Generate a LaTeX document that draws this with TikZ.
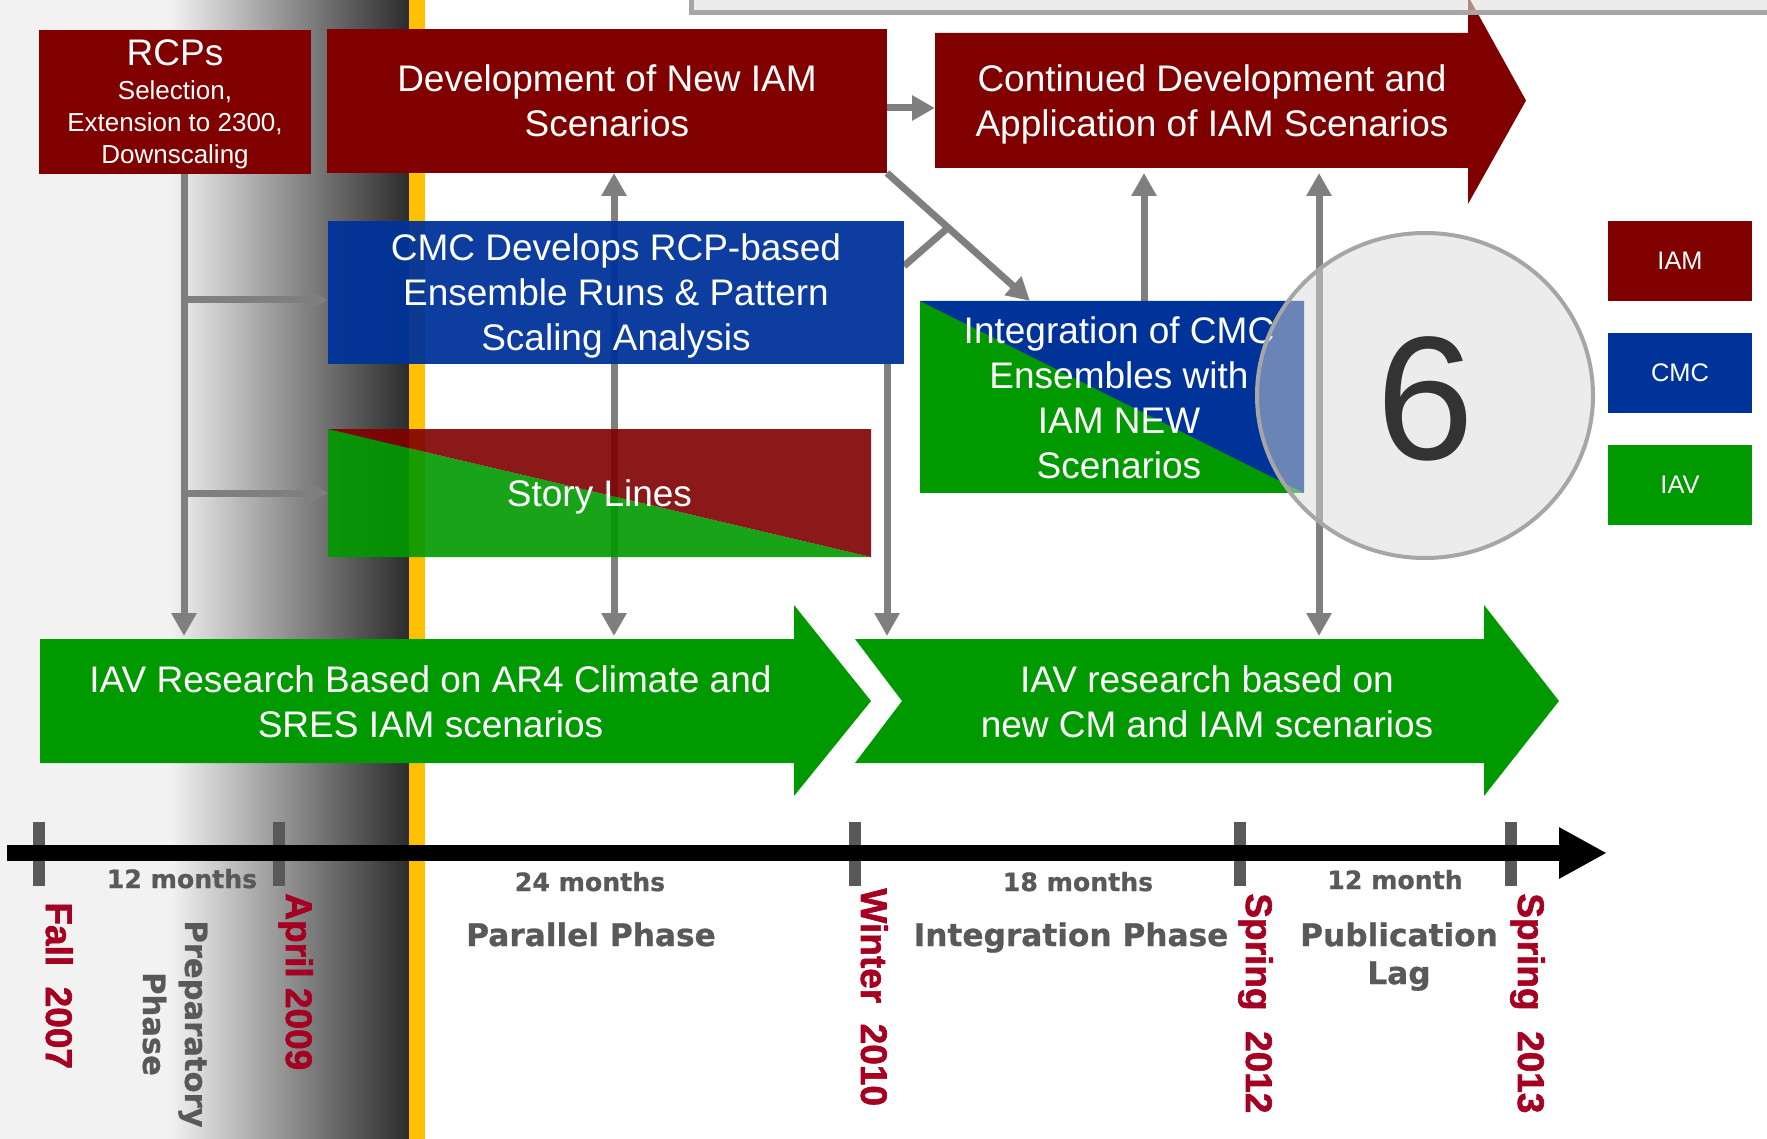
\documentclass[tikz,border=0pt]{standalone}
\usepackage{fontspec}
\setmainfont{Liberation Sans}
\newfontfamily\gaugefont{DejaVu Sans Bold}[FakeBold=0.8]
\newfontfamily\datefont{Liberation Sans Bold}[FakeBold=1.6]
\usetikzlibrary{arrows.meta,calc,shapes.geometric}

\definecolor{iamred}{HTML}{800000}
\definecolor{cmcblue}{HTML}{003399}
\definecolor{iavgreen}{HTML}{009900}
\definecolor{conngray}{HTML}{7F7F7F}
\definecolor{labgray}{HTML}{595959}
\definecolor{datered}{HTML}{A50021}
\definecolor{phasebar}{HTML}{FFC000}
\definecolor{bglight}{HTML}{F2F2F2}
\definecolor{bgdark}{HTML}{2B2B2B}
\definecolor{panelfill}{HTML}{E0E0E0}
\definecolor{panelline}{HTML}{A6A6A6}
\definecolor{badgefill}{HTML}{DADADA}
\definecolor{digitgray}{HTML}{333333}

\pgfdeclarelayer{back}
\pgfsetlayers{back,main}

\tikzset{
  gtip/.tip={Triangle[width=12pt,length=11.5pt]},
  conn/.style={draw=conngray, line width=3.5pt, -gtip},
  dconn/.style={draw=conngray, line width=3.5pt, gtip-gtip},
  link/.style={draw=conngray, line width=3.5pt},
  box/.style={inner sep=0pt, outer sep=0pt, text=white, align=center, text depth=0pt,
              font=\fontsize{18.5}{22.5}\selectfont},
  shapeonly/.style={inner sep=0pt, outer sep=0pt},
  legendbox/.style={box, minimum width=72pt, minimum height=40pt,
              font=\fontsize{12.7}{15}\selectfont},
  duration/.style={inner sep=0pt, anchor=base, text=labgray,
              font=\gaugefont\fontsize{12.6}{15}\selectfont},
  phase/.style={inner sep=0pt, align=center, text=labgray,
              font=\gaugefont\fontsize{15.6}{19}\selectfont},
  milestone/.style={inner sep=0pt, rotate=-90, anchor=base west, text=datered,
              font=\datefont\fontsize{18.5}{22}\selectfont},
  tickmark/.style={fill=labgray},
}

\begin{document}
\begin{tikzpicture}[x=0.5pt,y=-0.5pt]
\useasboundingbox (0,0) rectangle (1767,1139);
\clip (0,0) rectangle (1767,1139);

% backdrop: preparatory shading and the yellow phase bar
\begin{pgfonlayer}{back}
  \fill[white] (0,0) rectangle (1767,1139);
  \fill[bglight] (0,0) rectangle (171,1139);
  \shade[left color=bglight, right color=bgdark] (170,0) rectangle (409,1139);
  \fill[phasebar] (409,0) rectangle (425,1139);
\end{pgfonlayer}

% IAM boxes
\node[box, fill=iamred, minimum width=136pt, minimum height=72pt,
      font=\fontsize{13}{16}\selectfont] (rcps) at (175,102)
  {{\fontsize{18.5}{20}\selectfont RCPs}\\[1pt]Selection,\\Extension to 2300,\\Downscaling};
\node[box, fill=iamred, minimum width=280pt, minimum height=72pt] (dev) at (607,101)
  {Development of New IAM\\Scenarios};

\node[shapeonly, minimum width=266.5pt, minimum height=67.5pt] (cont) at (1201.5,100.5) {};
\fill[iamred] (cont.north west) -- (cont.north east) -- ++(0,-37)
  -- ($(cont.east)+(58,0)$) -- ($(cont.south east)+(0,36)$)
  -- (cont.south east) -- (cont.south west) -- cycle;
\node[box] (conttext) at (1212,100.5) {Continued Development and\\Application of IAM Scenarios};

% panel edge along the top
\path[fill=panelfill, fill opacity=0.6, draw=panelline, line width=2.5pt]
  (691,-30) rectangle (1800,13);

% CMC box
\node[box, fill=cmcblue, fill opacity=0.95, text opacity=1,
      minimum width=288pt, minimum height=71.5pt] (cmc) at (616,292.5)
  {CMC Develops RCP-based\\Ensemble Runs \& Pattern\\Scaling Analysis};

% split boxes
\node[box, minimum width=271.5pt, minimum height=64pt,
      fill=white, fill opacity=0, text opacity=1,
      path picture={
        \fill[iavgreen, fill opacity=0.9] (path picture bounding box.north west)
          -- (path picture bounding box.south east) -- (path picture bounding box.south west) -- cycle;
        \fill[iamred, fill opacity=0.9] (path picture bounding box.north west)
          -- (path picture bounding box.north east) -- (path picture bounding box.south east) -- cycle;
      }] (story) at (599.5,493) {Story Lines};

\node[box, minimum width=192pt, minimum height=96pt, fill=iavgreen,
      path picture={
        \fill[cmcblue] (path picture bounding box.north west)
          -- (path picture bounding box.north east) -- (path picture bounding box.south east) -- cycle;
      }] (integ) at (1112,397) {};
\node[box] (integtext) at (1119,398) {Integration of CMC\\Ensembles with\\IAM NEW\\Scenarios};

% IAV arrows
\node[shapeonly, minimum width=377pt, minimum height=62pt] (iavA) at (417,701) {};
\fill[iavgreen] (iavA.north west) -- (iavA.north east) -- ++(0,-34)
  -- ($(iavA.east)+(77,0)$) -- ($(iavA.south east)+(0,33)$)
  -- (iavA.south east) -- (iavA.south west) -- cycle;
\node[box] (iavAtext) at (430.5,702) {IAV Research Based on AR4 Climate and\\SRES IAM scenarios};

\node[shapeonly, minimum width=314.5pt, minimum height=62pt] (iavB) at (1169.5,701) {};
\fill[iavgreen] (iavB.north west) -- (iavB.north east) -- ++(0,-34)
  -- ($(iavB.east)+(75,0)$) -- ($(iavB.south east)+(0,33)$)
  -- (iavB.south east) -- (iavB.south west) -- ($(iavB.west)+(47,0)$) -- cycle;
\node[box] (iavBtext) at (1207,702) {IAV research based on\\new CM and IAM scenarios};

% connectors
\begin{pgfonlayer}{back}
  \coordinate (trunk) at ([xshift=4.5pt]rcps.south);
  \coordinate (cmcin) at ([yshift=-3.75pt]cmc.west);
  \draw[conn, shorten >=1.5pt] (trunk) -- (trunk |- iavA.north);
  \draw[conn] (trunk |- cmcin) -- (cmcin);
  \draw[conn] (trunk |- story.west) -- (story.west);

  \coordinate (devfoot) at ([xshift=3.5pt]dev.south);
  \draw[dconn, shorten >=1.5pt] (devfoot) -- (devfoot |- iavA.north);

  \draw[conn, shorten >=1.5pt] (dev.south east |- cmc.south) -- (dev.south east |- iavB.north);

  \coordinate (integin) at ([xshift=-41pt]integ.north);
  \draw[conn] (dev.south east) -- (integin);
  \draw[link] ([yshift=13.25pt]cmc.east) -- ($(dev.south east)!0.427!(integin)$);

  \coordinate (integup) at ([xshift=16pt]integ.north);
  \draw[conn, shorten >=2.5pt] (integup) -- (integup |- cont.south);

  \coordinate (contfoot) at ([xshift=58.75pt]cont.south);
  \draw[dconn, shorten <=2.5pt, shorten >=1.5pt] (contfoot) -- (contfoot |- iavB.north);

  \coordinate (devout) at ([yshift=-3.5pt]dev.east);
  \draw[conn] (devout) -- (devout -| cont.west);
\end{pgfonlayer}

% badge
\node[ellipse, inner sep=0pt, minimum width=168pt, minimum height=162.5pt,
      fill=badgefill, fill opacity=0.49, text opacity=1, draw=panelline, line width=2pt,
      text=digitgray, font=\fontsize{88}{88}\selectfont] (badge) at (1425,395.5)
  {\raisebox{0pt}[0.75em][0.02em]{6}};

% legend
\node[legendbox, fill=iamred] (legIAM) at (1680,261) {IAM};
\node[legendbox, fill=cmcblue] (legCMC) at (1680,373) {CMC};
\node[legendbox, fill=iavgreen] (legIAV) at (1680,485) {IAV};

% timeline
\foreach \t in {39,279,855,1240,1511}
  \fill[tickmark] (\t-6,822) rectangle (\t+6,886);
\coordinate (tlstart) at (7,853);
\coordinate (tlend) at (1607,853);
\draw[line width=8pt, -{Triangle[width=24pt,length=24pt]}] (tlstart) -- (tlend);

\node[duration] (dur1) at (182,888) {12 months};
\node[duration] (dur2) at (590,891) {24 months};
\node[duration] (dur3) at (1078,891) {18 months};
\node[duration] (dur4) at (1395,889) {12 month};

\node[phase, rotate=-90, font=\gaugefont\fontsize{15.3}{21}\selectfont] (ph1) at (175,1024) {Preparatory\\Phase};
\node[phase, anchor=base] (ph2) at (591,946) {Parallel Phase};
\node[phase, anchor=base] (ph3) at (1071,946) {Integration Phase};
\node[phase, anchor=north] (ph4) at (1399,922) {Publication\\Lag};

\node[milestone] (m1) at (46,902) {Fall~~2007};
\node[milestone] (m2) at (286,893) {April 2009};
\node[milestone] (m3) at (861,888) {Winter~~2010};
\node[milestone] (m4) at (1246,893) {Spring~~2012};
\node[milestone] (m5) at (1518,893) {Spring~~2013};
\end{tikzpicture}
\end{document}
